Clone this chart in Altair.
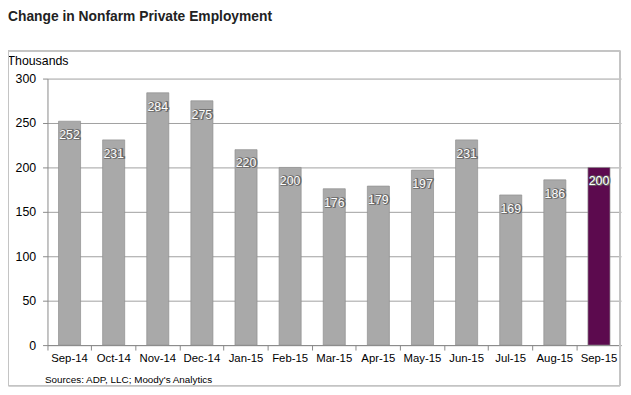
import altair as alt
import pandas as pd

months = ["Sep-14", "Oct-14", "Nov-14", "Dec-14", "Jan-15", "Feb-15", "Mar-15",
          "Apr-15", "May-15", "Jun-15", "Jul-15", "Aug-15", "Sep-15"]
values = [252, 231, 284, 275, 220, 200, 176, 179, 197, 231, 169, 186, 200]
series = ["prior"] * 12 + ["latest"]
y_ticks = [0, 50, 100, 150, 200, 250, 300]

title_text = "Change in Nonfarm Private Employment"
unit_text = "Thousands"
source_text = "Sources: ADP, LLC; Moody's Analytics"

df = pd.DataFrame({"month": months, "value": values, "series": series})

FONT = "Liberation Sans"

x_enc = alt.X(
    "month:N", sort=months,
    scale=alt.Scale(paddingInner=0, paddingOuter=0),
    axis=alt.Axis(
        title=source_text, titleFont=FONT, titleFontSize=10, titleFontWeight="normal",
        titleColor="#000", titleAlign="left", titleBaseline="alphabetic",
        titleAnchor="start", titleX=-3, titleY=38,
        labelAngle=0, labelFont=FONT, labelFontSize=11.5, labelColor="#000",
        labelPadding=3, bandPosition=0, tickSize=5, tickColor="#888",
        domainColor="#888", grid=False,
    ),
)
y_enc = alt.Y(
    "value:Q",
    scale=alt.Scale(domain=[0, 300], nice=False),
    axis=alt.Axis(
        values=y_ticks, title=unit_text, titleAngle=0, titleAlign="left",
        titleBaseline="alphabetic", titleX=-41, titleY=-14, titleFont=FONT,
        titleFontSize=12.5, titleFontWeight="normal", titleColor="#000",
        labelFont=FONT, labelFontSize=12.5, labelColor="#000", labelPadding=7,
        tickSize=5, tickColor="#888", domainColor="#888",
        grid=True, gridColor="#a0a0a0",
    ),
)

frame = alt.Chart(df).mark_rect(fillOpacity=0, stroke="#c4c4c4", strokeWidth=1).encode(
    x=alt.value(-39.5), x2=alt.value(580), y=alt.value(-28), y2=alt.value(311)
)

bars = alt.Chart(df).mark_bar(width=alt.RelativeBandSize(0.5), stroke="#8f8f8f", strokeWidth=0.7).encode(
    x=x_enc, y=y_enc,
    color=alt.Color("series:N", scale=alt.Scale(domain=["prior", "latest"],
                                                range=["#a9a9a9", "#5c0a4e"]), legend=None),
)

shadow = alt.Chart(df).mark_text(
    font=FONT, fontSize=12.5, baseline="alphabetic", dy=18, dx=0.8,
    color="#555", stroke="#666", strokeWidth=1.6,
).encode(x=alt.X("month:N", sort=months), y="value:Q", text="value:Q")

labels = alt.Chart(df).mark_text(
    font=FONT, fontSize=12.5, baseline="alphabetic", dy=18, color="#ffffff",
).encode(x=alt.X("month:N", sort=months), y="value:Q", text="value:Q")

chart = alt.layer(frame, bars, shadow, labels).properties(
    width=581, height=270,
    padding={"left": 40, "top": 69, "right": 2, "bottom": 45},
    autosize=alt.AutoSizeParams(type="none"),
    title=alt.TitleParams(
        title_text, anchor="start", frame="group", font=FONT, fontSize=14,
        fontWeight="bold", color="#222", dx=-40, offset=27,
    ),
).configure_view(stroke=None)

chart.save("out.html", embed_options={"renderer": "svg", "actions": False})
